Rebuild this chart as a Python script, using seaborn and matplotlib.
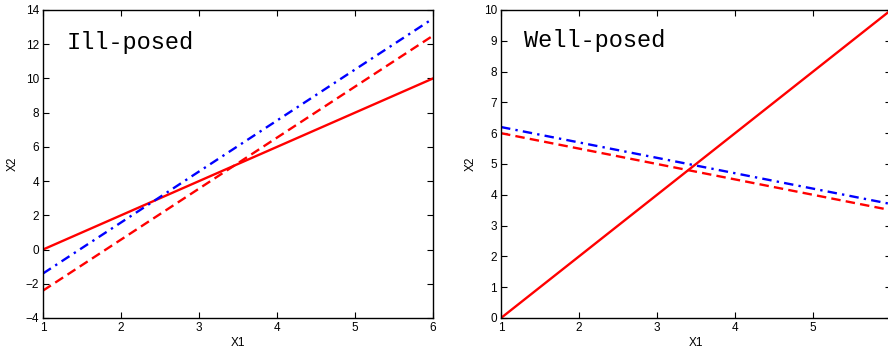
import matplotlib
matplotlib.use("Agg")
import matplotlib.pyplot as plt
import seaborn as sns
import pandas as pd

# Endpoints of the three lines in each system (x1 at the ends of the range)
x_ends = [1, 6]

ill_solid = [0.0, 10.0]
ill_dashed = [-2.4, 12.5]
ill_dashdot = [-1.4, 13.5]

well_solid = [0.0, 10.0]
well_dashed = [6.0, 3.5]
well_dashdot = [6.2, 3.7]

x_ticks = [1, 2, 3, 4, 5, 6]
ill_xlabels = ["1", "2", "3", "4", "5", "6"]
well_xlabels = ["1", "2", "3", "4", "5", ""]
ill_yticks = [-4, -2, 0, 2, 4, 6, 8, 10, 12, 14]
well_yticks = [0, 1, 2, 3, 4, 5, 6, 7, 8, 9, 10]

sns.set_style("ticks")
plt.rcParams["font.family"] = ["Liberation Sans", "DejaVu Sans"]
plt.rcParams["axes.unicode_minus"] = True
plt.rcParams["text.color"] = "black"
plt.rcParams["axes.labelcolor"] = "black"

fig = plt.figure(figsize=(8.88, 3.52), dpi=100)
ax1 = fig.add_axes([0.0484, 0.0966, 0.4392, 0.875])
ax2 = fig.add_axes([0.5642, 0.0966, 0.4392, 0.875])


def draw(ax, solid, dashed, dashdot, yticks, xlabels, title, title_y):
    df = pd.DataFrame({"x": x_ends, "solid": solid, "dashed": dashed, "dashdot": dashdot})
    sns.lineplot(data=df, x="x", y="solid", ax=ax, color="#ff0000", lw=1.7)
    sns.lineplot(data=df, x="x", y="dashed", ax=ax, color="#ff0000", lw=1.7,
                 linestyle=(0, (4, 2.2)))
    sns.lineplot(data=df, x="x", y="dashdot", ax=ax, color="#0000ff", lw=1.7,
                 linestyle=(0, (4, 2.2, 1, 2.2)))
    ax.set_xlim(1, 6)
    ax.set_ylim(yticks[0], yticks[-1])
    ax.set_xticks(x_ticks)
    ax.set_xticklabels(xlabels)
    ax.set_yticks(yticks)
    ax.tick_params(direction="in", length=4, width=0.8, labelsize=8.5,
                   top=True, right=True, colors="black", pad=3)
    for s in ax.spines.values():
        s.set_visible(True)
        s.set_linewidth(1.0)
        s.set_color("black")
    ax.set_xlabel("X1", fontsize=8.5, labelpad=2)
    ax.set_ylabel("X2", fontsize=8.5, labelpad=5)
    ax.text(1.3, title_y, title, fontsize=17, va="center", ha="left", color="black",
            family=["Liberation Mono", "DejaVu Sans Mono"])


draw(ax1, ill_solid, ill_dashed, ill_dashdot, ill_yticks, ill_xlabels, "Ill-posed", 12.1)
draw(ax2, well_solid, well_dashed, well_dashdot, well_yticks, well_xlabels, "Well-posed", 9.0)

fig.savefig("out.png", dpi=100)
